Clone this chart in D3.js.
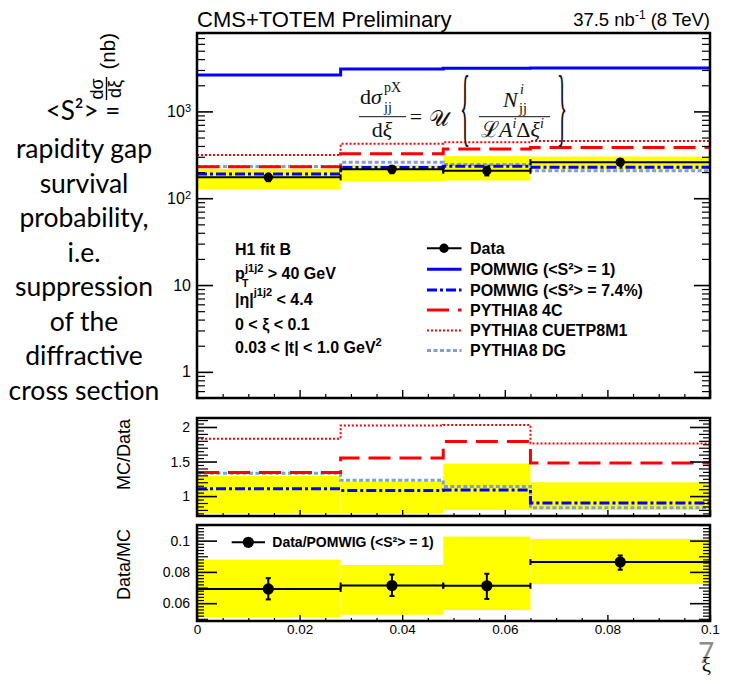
<!DOCTYPE html>
<html>
<head>
<meta charset="utf-8">
<script src="https://cdn.jsdelivr.net/npm/d3@7"></script>
<style>
  body { margin: 0; background: #fff; }
  svg { display: block; }
</style>
</head>
<body>
<svg id="chart" width="731" height="684"></svg>
<script>
// ---- binning in xi ----
const binEdges = [0, 0.028, 0.048, 0.065, 0.1];
const dataXi   = [0.0139, 0.038, 0.0565, 0.0825];

// ---- d sigma / d xi (nb) ----
const dataXsec    = [174, 215, 207, 260];
const dataStatLo  = [157, 194, 183, 245];
const dataStatHi  = [191, 236, 229, 273];
const dataSystLo  = [126, 157, 160, 215];
const dataSystHi  = [218, 240, 305, 302];
const pomwigFull  = [2620, 3070, 3150, 3160];
const pomwigSupp  = [190, 226, 233, 228];
const pythia4C    = [230, 325, 368, 385];
const pythiaCUETP = [314, 425, 440, 455];
const pythiaDG    = [232, 260, 245, 207];

// ---- MC / Data ----
const ratioBandLo  = [0.75, 0.75, 0.80, 0.80];
const ratioBandHi  = [1.29, 1.21, 1.47, 1.20];
const ratioSupp    = [1.105, 1.08, 1.09, 0.90];
const ratio4C      = [1.34, 1.55, 1.79, 1.48];
const ratioCUETP   = [1.83, 2.02, 2.03, 1.76];
const ratioDG      = [1.33, 1.23, 1.14, 0.83];

// ---- Data / POMWIG (<S2> = 1) ----
const survVal    = [0.0691, 0.0713, 0.0711, 0.0863];
const survStatLo = [0.0624, 0.0646, 0.0627, 0.0814];
const survStatHi = [0.0760, 0.0783, 0.0788, 0.0905];
const survSystLo = [0.0511, 0.0526, 0.0556, 0.0722];
const survSystHi = [0.0878, 0.0844, 0.1026, 0.1011];

// ---- tick labels ----
const xTickLabels     = [0, 0.02, 0.04, 0.06, 0.08, 0.1];
const mainTickLabels  = [1, 10, 100, 1000];
const ratioTickLabels = [1, 1.5, 2];
const survTickLabels  = [0.06, 0.08, 0.1];

// ---- texts ----
const legendLabels = ["Data", "POMWIG (<S²> = 1)", "POMWIG (<S²> = 7.4%)",
                      "PYTHIA8 4C", "PYTHIA8 CUETP8M1", "PYTHIA8 DG"];
const sideNote = ["rapidity gap", "survival", "probability,", "i.e.",
                  "suppression", "of the", "diffractive", "cross section"];

// ---------------------------------------------------------------
const svg = d3.select("#chart");
const SANS = "'Liberation Sans', Arial, Helvetica, sans-serif";
const SERIF = "'Liberation Serif', 'DejaVu Serif', serif";
const SLIDE = "Lato, 'Open Sans', sans-serif";

const L = 197, R = 710;
const pMain = { top: 33, bottom: 398 };
const p1 = { top: 418, bottom: 516 };
const p2 = { top: 525, bottom: 621 };

const x = d3.scaleLinear().domain([0, 0.1]).range([L, R]);
const yMain = d3.scaleLog().domain([0.5, 8000]).range([pMain.bottom, pMain.top]);
const yR1 = d3.scaleLinear().domain([0.712, 2.13]).range([p1.bottom, p1.top]);
const yR2 = d3.scaleLinear().domain([0.0486, 0.110]).range([p2.bottom, p2.top]);

const defs = svg.append("defs");
function clipFor(id, p) {
  defs.append("clipPath").attr("id", id)
    .append("rect").attr("x", L).attr("y", p.top).attr("width", R - L).attr("height", p.bottom - p.top);
  return `url(#${id})`;
}

// histogram as a step line across the bins
function stepPoints(vals) {
  const pts = vals.map((v, i) => [binEdges[i], v]);
  pts.push([binEdges[binEdges.length - 1], vals[vals.length - 1]]);
  return pts;
}
function drawStep(g, y, vals, style) {
  const line = d3.line().x(d => x(d[0])).y(d => y(d[1])).curve(d3.curveStepAfter);
  g.append("path").attr("d", line(stepPoints(vals)))
    .attr("fill", "none")
    .attr("stroke", style.color)
    .attr("stroke-width", style.width)
    .attr("stroke-dasharray", style.dash || null);
}
function drawBand(g, y, lo, hi) {
  g.selectAll(null).data(lo).enter().append("rect")
    .attr("x", (d, i) => x(binEdges[i]))
    .attr("width", (d, i) => x(binEdges[i + 1]) - x(binEdges[i]))
    .attr("y", (d, i) => y(hi[i]))
    .attr("height", (d, i) => y(lo[i]) - y(hi[i]))
    .attr("fill", "#ffff00");
}
function drawData(g, y, vals, lo, hi, r) {
  vals.forEach((v, i) => {
    const x0 = x(binEdges[i]), x1 = x(binEdges[i + 1]), yy = y(v), xc = x(dataXi[i]);
    g.append("line").attr("x1", x0).attr("x2", x1).attr("y1", yy).attr("y2", yy)
      .attr("stroke", "#000").attr("stroke-width", 2);
    [x0, x1].forEach(xe => g.append("line").attr("x1", xe).attr("x2", xe)
      .attr("y1", yy - 3).attr("y2", yy + 3).attr("stroke", "#000").attr("stroke-width", 2));
    g.append("line").attr("x1", xc).attr("x2", xc).attr("y1", y(hi[i])).attr("y2", y(lo[i]))
      .attr("stroke", "#000").attr("stroke-width", 2);
    [hi[i], lo[i]].forEach(e => g.append("line").attr("x1", xc - 2.5).attr("x2", xc + 2.5)
      .attr("y1", y(e)).attr("y2", y(e)).attr("stroke", "#000").attr("stroke-width", 2));
    g.append("circle").attr("cx", xc).attr("cy", yy).attr("r", r).attr("fill", "#000");
  });
}

// inward ticks through d3 axes
function ticks(orient, scale, values, len, pos, fmt, pad, width) {
  const gen = orient === "left" ? d3.axisLeft : orient === "right" ? d3.axisRight : d3.axisBottom;
  const axis = gen(scale).tickValues(values).tickSizeInner(-len).tickSizeOuter(0)
    .tickPadding(pad || 0).tickFormat(fmt || (() => ""));
  const g = svg.append("g")
    .attr("transform", orient === "bottom" ? `translate(0,${pos})` : `translate(${pos},0)`)
    .call(axis);
  g.select(".domain").remove();
  g.selectAll("line").attr("stroke", "#000").attr("stroke-width", width || 1.2);
  g.attr("font-family", SANS).attr("font-size", 13);
  g.selectAll("text").attr("fill", "#000");
  return g;
}
const isMult = (v, step) => Math.abs(v / step - Math.round(v / step)) < 1e-6;

const styles = {
  full:  { color: "#0000ff", width: 3 },
  supp:  { color: "#0000ff", width: 3, dash: "10,3,3,3" },
  c4:    { color: "#ff0000", width: 3, dash: "22,9" },
  cuetp: { color: "#ff0000", width: 2, dash: "2,2" },
  dg:    { color: "#7f9fd8", width: 3, dash: "4,2.5" }
};

// ================= main panel =================
const gMain = svg.append("g").attr("clip-path", clipFor("cMain", pMain));
drawBand(gMain, yMain, dataSystLo, dataSystHi);
drawStep(gMain, yMain, pomwigFull, styles.full);
drawStep(gMain, yMain, pythiaCUETP, styles.cuetp);
drawStep(gMain, yMain, pythiaDG, styles.dg);
drawStep(gMain, yMain, pythia4C, styles.c4);
drawStep(gMain, yMain, pomwigSupp, styles.supp);
drawData(gMain, yMain, dataXsec, dataStatLo, dataStatHi, 4.7);

// log-axis ticks
const logAll = yMain.ticks().filter(v => v >= 0.5 && v <= 8000);
const logMinor = logAll.filter(v => !mainTickLabels.includes(v));
ticks("left", yMain, logMinor, 8, L);
ticks("right", yMain, logMinor, 8, R);
ticks("right", yMain, mainTickLabels, 16, R, null, 0, 1.6);
const mainLab = ticks("left", yMain, mainTickLabels, 16, L, d => d, 6, 1.6);
mainLab.attr("font-size", 16);
mainLab.selectAll("text").each(function (d) {
  const t = d3.select(this).text("");
  if (d >= 100) {
    t.append("tspan").text("10");
    t.append("tspan").attr("font-size", 11).attr("dy", "-0.45em").text(String(Math.round(Math.log10(d))));
  } else {
    t.text(String(d));
  }
});
const xMinor = x.ticks(20);
ticks("bottom", x, xMinor.filter(v => !isMult(v, 0.02)), 4, pMain.bottom);
ticks("bottom", x, xMinor.filter(v => isMult(v, 0.02)), 8, pMain.bottom, null, 0, 1.4);

// ================= MC / Data =================
const g1 = svg.append("g").attr("clip-path", clipFor("c1", p1));
drawBand(g1, yR1, ratioBandLo, ratioBandHi);
drawStep(g1, yR1, ratioCUETP, styles.cuetp);
drawStep(g1, yR1, ratioDG, styles.dg);
drawStep(g1, yR1, ratio4C, styles.c4);
drawStep(g1, yR1, ratioSupp, styles.supp);

const r1All = yR1.ticks(28);
[["left", L], ["right", R]].forEach(([o, p]) => {
  ticks(o, yR1, r1All.filter(v => !isMult(v, 0.1)), 7, p);
  ticks(o, yR1, r1All.filter(v => isMult(v, 0.1) && !isMult(v, 0.5)), 11, p);
});
ticks("right", yR1, ratioTickLabels, 20, R, null, 0, 1.6);
ticks("left", yR1, ratioTickLabels, 20, L, d => d3.format("")(d), 7, 1.6).attr("font-size", 14);
ticks("bottom", x, xMinor.filter(v => !isMult(v, 0.02)), 3, p1.bottom);
ticks("bottom", x, xMinor.filter(v => isMult(v, 0.02)), 6, p1.bottom, null, 0, 1.4);

// ================= Data / MC =================
const g2 = svg.append("g").attr("clip-path", clipFor("c2", p2));
drawBand(g2, yR2, survSystLo, survSystHi);
drawData(g2, yR2, survVal, survStatLo, survStatHi, 5.6);

const r2All = yR2.ticks(30);
[["left", L], ["right", R]].forEach(([o, p]) => {
  ticks(o, yR2, r2All.filter(v => !isMult(v, 0.01)), 7, p);
  ticks(o, yR2, r2All.filter(v => isMult(v, 0.01) && !isMult(v, 0.02)), 11, p);
});
ticks("right", yR2, survTickLabels, 20, R, null, 0, 1.6);
ticks("left", yR2, survTickLabels, 20, L, d => d3.format("")(d), 7, 1.6).attr("font-size", 14);
ticks("bottom", x, xMinor.filter(v => !isMult(v, 0.02)), 3, p2.bottom);
ticks("bottom", x, xTickLabels, 6, p2.bottom, d => d3.format("")(d), 3, 1.4).attr("font-size", 13.5);

// frames
[pMain, p1, p2].forEach(p => svg.append("rect")
  .attr("x", L).attr("y", p.top).attr("width", R - L).attr("height", p.bottom - p.top)
  .attr("fill", "none").attr("stroke", "#000").attr("stroke-width", 2.5));

// ================= texts =================
svg.append("text").attr("x", L).attr("y", 26.5).attr("font-family", SANS).attr("font-size", 22)
  .text("CMS+TOTEM Preliminary");
const lumi = svg.append("text").attr("x", R).attr("y", 26).attr("text-anchor", "end")
  .attr("font-family", SANS).attr("font-size", 18.5);
lumi.append("tspan").text("37.5 nb");
lumi.append("tspan").attr("font-size", 12).attr("dy", -7.5).text("-1");
lumi.append("tspan").attr("dy", 7.5).text(" (8 TeV)");

// y-axis titles (rotated)
const rot = svg.append("g").attr("transform", "rotate(-90)").attr("font-family", SANS);
rot.append("text").attr("x", -33).attr("y", 115).attr("text-anchor", "end").attr("font-size", 20.5).text("(nb)");
rot.append("text").attr("x", -89).attr("y", 103).attr("text-anchor", "middle").attr("font-size", 18).text("dσ");
rot.append("line").attr("x1", -100).attr("x2", -77).attr("y1", 106.5).attr("y2", 106.5).attr("stroke", "#000").attr("stroke-width", 1.4);
rot.append("text").attr("x", -89).attr("y", 121).attr("text-anchor", "middle").attr("font-size", 18).text("dξ");
rot.append("text").attr("x", -419).attr("y", 130).attr("text-anchor", "end").attr("font-size", 18).text("MC/Data");
rot.append("text").attr("x", -529).attr("y", 130).attr("text-anchor", "end").attr("font-size", 18).text("Data/MC");

// slide annotation on the left
svg.append("text").attr("x", 83).attr("y", 120).attr("text-anchor", "middle")
  .attr("font-family", SLIDE).attr("font-size", 26).attr("fill", "#000").text("<S²> =");
svg.append("g").attr("font-family", SLIDE).attr("font-size", 26.5).attr("fill", "#000")
  .selectAll("text").data(sideNote).enter().append("text")
  .attr("x", 84).attr("y", (d, i) => 158 + i * 34.5).attr("text-anchor", "middle").text(d => d);

// cross-section formula
const fm = svg.append("g").attr("font-family", SERIF).attr("fill", "#111");
const n1 = fm.append("text").attr("x", 360).attr("y", 103.5).attr("font-size", 22);
n1.append("tspan").text("d");
n1.append("tspan").attr("font-style", "italic").text("σ");
fm.append("text").attr("x", 384).attr("y", 92).attr("font-size", 14).text("pX");
fm.append("text").attr("x", 384).attr("y", 112).attr("font-size", 14).text("jj");
fm.append("line").attr("x1", 359).attr("x2", 406).attr("y1", 116.7).attr("y2", 116.7).attr("stroke", "#111").attr("stroke-width", 1);
const d1 = fm.append("text").attr("x", 382).attr("y", 137).attr("text-anchor", "middle").attr("font-size", 22);
d1.append("tspan").text("d");
d1.append("tspan").attr("font-style", "italic").text("ξ");
fm.append("text").attr("x", 416).attr("y", 124).attr("text-anchor", "middle").attr("font-size", 22).text("=");
fm.append("text").attr("x", 429).attr("y", 126).attr("font-size", 22).text("𝒰");
fm.append("text").attr("transform", "translate(460,135) scale(0.75,3.1)").attr("font-size", 28).text("{");
fm.append("text").attr("transform", "translate(557,135) scale(0.75,3.1)").attr("font-size", 28).text("}");
fm.append("text").attr("x", 503).attr("y", 106.7).attr("font-size", 22).attr("font-style", "italic").text("N");
fm.append("text").attr("x", 520).attr("y", 94).attr("font-size", 14).attr("font-style", "italic").text("i");
fm.append("text").attr("x", 519).attr("y", 113).attr("font-size", 14).text("jj");
fm.append("line").attr("x1", 479).attr("x2", 550).attr("y1", 116.7).attr("y2", 116.7).attr("stroke", "#111").attr("stroke-width", 1);
const dn = fm.append("text").attr("x", 481).attr("y", 137).attr("font-size", 22);
dn.append("tspan").text("ℒ");
dn.append("tspan").attr("font-style", "italic").text("A");
dn.append("tspan").attr("font-style", "italic").attr("font-size", 14).attr("dy", -9).text("i");
dn.append("tspan").attr("dy", 9).text("Δ");
dn.append("tspan").attr("font-style", "italic").text("ξ");
dn.append("tspan").attr("font-style", "italic").attr("font-size", 14).attr("dy", -9).text("i");

// selection info
const info = svg.append("g").attr("font-family", SANS).attr("font-size", 16).attr("font-weight", "bold");
info.append("text").attr("x", 235).attr("y", 255).text("H1 fit B");
const ptl = info.append("text").attr("x", 235).attr("y", 279);
ptl.append("tspan").text("p");
ptl.append("tspan").attr("x", 242).attr("dy", 8).attr("font-size", 10.5).text("T");
ptl.append("tspan").attr("x", 245).attr("dy", -15).attr("font-size", 11).text("j1j2");
ptl.append("tspan").attr("dy", 7).text(" > 40 GeV");
const etl = info.append("text").attr("x", 235).attr("y", 305);
etl.append("tspan").text("|η|");
etl.append("tspan").attr("font-size", 11).attr("dy", -9).text("j1j2");
etl.append("tspan").attr("dy", 9).text(" < 4.4");
info.append("text").attr("x", 235).attr("y", 330).text("0 < ξ < 0.1");
const tl = info.append("text").attr("x", 235).attr("y", 353);
tl.append("tspan").text("0.03 < |t| < 1.0 GeV");
tl.append("tspan").attr("font-size", 11).attr("dy", -7).text("2");

// legend
const legStyles = [null, styles.full, styles.supp, styles.c4, styles.cuetp, styles.dg];
const legY = [248.3, 269.3, 290, 310, 330.5, 350.5];
const leg = svg.append("g").attr("font-family", SANS).attr("font-size", 16).attr("font-weight", "bold");
legendLabels.forEach((lab, i) => {
  const yy = legY[i];
  if (i === 0) {
    leg.append("line").attr("x1", 427).attr("x2", 461.5).attr("y1", yy).attr("y2", yy).attr("stroke", "#000").attr("stroke-width", 2);
    leg.append("circle").attr("cx", 444).attr("cy", yy).attr("r", 4.7).attr("fill", "#000");
  } else {
    const s = legStyles[i];
    leg.append("line").attr("x1", 427).attr("x2", 461.5).attr("y1", yy).attr("y2", yy)
      .attr("stroke", s.color).attr("stroke-width", s.width).attr("stroke-dasharray", s.dash || null);
  }
  leg.append("text").attr("x", 470).attr("y", yy + 5.8).text(lab);
});

// Data/MC legend
svg.append("line").attr("x1", 231.7).attr("x2", 265).attr("y1", 542.3).attr("y2", 542.3).attr("stroke", "#000").attr("stroke-width", 2);
svg.append("circle").attr("cx", 248.3).attr("cy", 542.3).attr("r", 5.6).attr("fill", "#000");
svg.append("text").attr("x", 272.3).attr("y", 547.3).attr("font-family", SANS).attr("font-size", 14)
  .attr("font-weight", "bold").text("Data/POMWIG (<S²> = 1)");

// x-axis title and slide number
svg.append("text").attr("x", 706).attr("y", 663).attr("text-anchor", "middle")
  .attr("font-family", SLIDE).attr("font-size", 28).attr("fill", "#8c8c8c").text("7");
svg.append("text").attr("x", 711).attr("y", 672).attr("text-anchor", "end")
  .attr("font-family", SERIF).attr("font-size", 21).attr("fill", "#111").text("ξ");
</script>
</body>
</html>
